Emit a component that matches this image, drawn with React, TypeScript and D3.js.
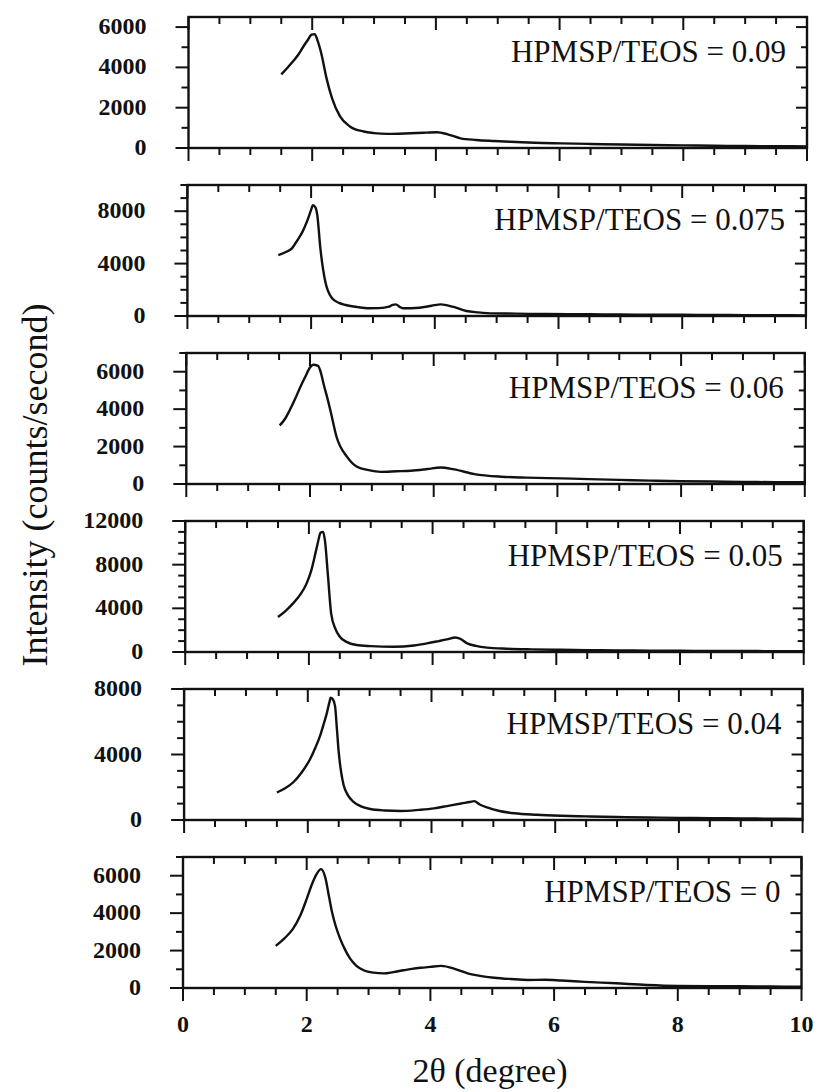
import React from "react";
import * as d3 from "d3";

// ---------- data ----------
const xDomain = [0, 10];
const xMajorTicks = [0, 2, 4, 6, 8, 10];

const labels = [
  "HPMSP/TEOS = 0.09",
  "HPMSP/TEOS = 0.075",
  "HPMSP/TEOS = 0.06",
  "HPMSP/TEOS = 0.05",
  "HPMSP/TEOS = 0.04",
  "HPMSP/TEOS = 0",
];

const yMaxes = [6500, 10000, 7000, 12000, 8000, 7000];

const yLabels009 = [0, 2000, 4000, 6000];
const yLabels0075 = [0, 4000, 8000];
const yLabels006 = [0, 2000, 4000, 6000];
const yLabels005 = [0, 4000, 8000, 12000];
const yLabels004 = [0, 4000, 8000];
const yLabels000 = [0, 2000, 4000, 6000];

const x009 = [1.5, 1.6, 1.69, 1.78, 1.85, 1.92, 1.99, 2.04, 2.09, 2.15, 2.23, 2.32, 2.45, 2.61, 2.83, 3.0, 3.21, 3.4, 3.59, 3.8, 4.02, 4.19, 4.4, 4.65, 4.94, 5.3, 5.6, 6.03, 6.5, 7.0, 7.5, 8.0, 8.5, 9.0, 9.5, 10.0];
const y009 = [3650, 3980, 4300, 4650, 5000, 5320, 5620, 5650, 5300, 4650, 3480, 2480, 1570, 1070, 820, 740, 700, 710, 730, 760, 780, 680, 480, 400, 350, 300, 260, 230, 200, 170, 150, 130, 110, 100, 90, 80];

const x0075 = [1.47, 1.6, 1.69, 1.78, 1.86, 1.94, 2.0, 2.03, 2.07, 2.1, 2.15, 2.23, 2.34, 2.45, 2.56, 2.75, 2.94, 3.1, 3.26, 3.32, 3.37, 3.43, 3.48, 3.75, 3.95, 4.1, 4.29, 4.51, 4.7, 4.94, 5.3, 5.8, 6.5, 7.0, 7.5, 8.0, 8.5, 9.0, 9.5, 10.0];
const y0075 = [4650, 4900, 5160, 5800, 6420, 7300, 8100, 8460, 8300, 7700, 5160, 2610, 1350, 1000, 840, 680, 590, 600, 710, 850, 890, 700, 590, 630, 780, 890, 710, 380, 280, 200, 180, 150, 130, 110, 100, 90, 80, 70, 60, 50];

const x006 = [1.51, 1.6, 1.67, 1.76, 1.84, 1.92, 2.0, 2.05, 2.13, 2.18, 2.22, 2.28, 2.33, 2.43, 2.6, 2.76, 2.95, 3.14, 3.4, 3.63, 3.9, 4.11, 4.33, 4.66, 5.09, 5.5, 6.07, 6.5, 7.0, 7.5, 8.0, 8.5, 9.0, 9.5, 10.0];
const y006 = [3130, 3500, 3930, 4550, 5160, 5700, 6220, 6370, 6310, 5900, 5340, 4600, 3930, 2510, 1450, 920, 740, 650, 680, 710, 800, 880, 780, 530, 390, 340, 300, 260, 220, 180, 150, 130, 110, 100, 90];

const x005 = [1.5, 1.62, 1.74, 1.86, 1.96, 2.04, 2.09, 2.14, 2.19, 2.23, 2.26, 2.31, 2.36, 2.43, 2.5, 2.6, 2.77, 3.0, 3.37, 3.7, 3.91, 4.1, 4.23, 4.37, 4.45, 4.56, 4.7, 4.88, 5.2, 5.6, 6.07, 6.5, 7.0, 7.5, 8.0, 8.5, 9.0, 9.5, 10.0];
const y005 = [3210, 3750, 4430, 5250, 6240, 7500, 8660, 9900, 10940, 11000, 10180, 6850, 3520, 2100, 1390, 950, 640, 540, 480, 600, 790, 1000, 1150, 1330, 1200, 790, 560, 400, 300, 240, 200, 170, 150, 130, 110, 100, 90, 80, 70];

const x004 = [1.5, 1.64, 1.77, 1.9, 2.04, 2.12, 2.2, 2.26, 2.31, 2.35, 2.37, 2.4, 2.44, 2.47, 2.5, 2.54, 2.58, 2.65, 2.74, 2.85, 3.01, 3.25, 3.5, 3.8, 4.04, 4.25, 4.48, 4.62, 4.69, 4.78, 4.91, 5.1, 5.34, 5.7, 6.1, 6.5, 7.0, 7.5, 8.0, 8.5, 9.0, 9.5, 10.0];
const y004 = [1680, 1950, 2320, 2900, 3740, 4400, 5150, 5900, 6560, 7200, 7470, 7400, 6970, 5600, 4140, 2900, 2120, 1500, 1110, 850, 670, 580, 550, 620, 710, 850, 1010, 1100, 1150, 950, 750, 550, 410, 320, 260, 220, 180, 150, 130, 110, 100, 80, 70];

const x000 = [1.5, 1.64, 1.78, 1.9, 2.0, 2.08, 2.16, 2.23, 2.3, 2.36, 2.41, 2.47, 2.54, 2.62, 2.7, 2.8, 2.92, 3.08, 3.25, 3.4, 3.57, 3.7, 3.84, 4.0, 4.17, 4.38, 4.5, 4.6, 4.8, 5.03, 5.3, 5.58, 5.85, 6.12, 6.5, 7.0, 7.5, 8.0, 8.5, 9.0, 9.5, 10.0];
const y000 = [2250, 2650, 3170, 3900, 4760, 5500, 6080, 6350, 5910, 4900, 4050, 3300, 2640, 2050, 1580, 1200, 950, 820, 780, 850, 950, 1020, 1080, 1130, 1180, 1040, 900, 780, 650, 550, 480, 430, 440, 400, 330, 250, 160, 110, 100, 90, 80, 70];

const seriesX = [x009, x0075, x006, x005, x004, x000];
const seriesY = [y009, y0075, y006, y005, y004, y000];
const yTickLabels = [yLabels009, yLabels0075, yLabels006, yLabels005, yLabels004, yLabels000];

// ---------- layout ----------
const W = 819;
const H = 1092;
const panelH = 131;
const panelPitch = 168;
const firstZero = 148;
const panelW = 618.5;
const firstLeft = 188.5;
const leftShift = 1.1; // scanned page is slightly slanted
const serif = "'Liberation Serif', 'Times New Roman', Times, serif";

function Panel({ i }: { i: number }) {
  const left = firstLeft - i * leftShift;
  const right = left + panelW;
  const bottom = firstZero + i * panelPitch;
  const top = bottom - panelH;
  const x = d3.scaleLinear().domain(xDomain).range([left, right]);
  const y = d3.scaleLinear().domain([0, yMaxes[i]]).range([bottom, top]);
  const pts: [number, number][] = seriesX[i].map((v, k) => [v, seriesY[i][k]]);
  const line = d3
    .line<[number, number]>()
    .x((d) => x(d[0]))
    .y((d) => y(d[1]))
    .curve(d3.curveMonotoneX);

  const xMinor = d3.range(0, 10.001, 0.5);
  const yMinor = d3.range(0, yMaxes[i] + 1, 1000);
  const isXMajor = (v: number) => Math.abs(v / 2 - Math.round(v / 2)) < 1e-6;
  const majorsY = yTickLabels[i];
  const isYMajor = (v: number) => majorsY.includes(v);
  const isLast = i === seriesX.length - 1;

  return (
    <g>
      {xMinor.map((v) => {
        const maj = isXMajor(v);
        return (
          <g key={"xt" + v}>
            <line x1={x(v)} x2={x(v)} y1={bottom} y2={bottom + (maj ? 13 : 7)} stroke="#111" strokeWidth={2} />
            <line x1={x(v)} x2={x(v)} y1={top} y2={top + (maj ? 13 : 7)} stroke="#111" strokeWidth={2} />
          </g>
        );
      })}
      {yMinor.map((v) => {
        const maj = isYMajor(v);
        return (
          <g key={"yt" + v}>
            <line x1={left} x2={left - (maj ? 13 : 7)} y1={y(v)} y2={y(v)} stroke="#111" strokeWidth={2} />
            <line x1={right} x2={right - (maj ? 11 : 6)} y1={y(v)} y2={y(v)} stroke="#111" strokeWidth={2} />
          </g>
        );
      })}
      <rect x={left} y={top} width={right - left} height={bottom - top} fill="none" stroke="#111" strokeWidth={2.4} />
      {majorsY.map((v) => (
        <text
          key={"yl" + v}
          x={left - 42}
          y={y(v) + 7}
          textAnchor="end"
          fontFamily={serif}
          fontWeight="bold"
          fontSize={24}
          fill="#111"
        >
          {v}
        </text>
      ))}
      {isLast &&
        xMajorTicks.map((v) => (
          <text
            key={"xl" + v}
            x={x(v)}
            y={bottom + 44}
            textAnchor="middle"
            fontFamily={serif}
            fontWeight="bold"
            fontSize={24}
            fill="#111"
          >
            {v}
          </text>
        ))}
      <path d={line(pts) || ""} fill="none" stroke="#111" strokeWidth={2.4} strokeLinejoin="round" />
      <text x={right - 21} y={top + 45} textAnchor="end" fontFamily={serif} fontSize={31} fill="#111">
        {labels[i]}
      </text>
    </g>
  );
}

export default function App() {
  return (
    <svg
      width={W}
      height={H}
      viewBox={`0 0 ${W} ${H}`}
      style={{ position: "absolute", left: 0, top: 0, background: "#fff" }}
    >
      <rect x={0} y={0} width={W} height={H} fill="#fff" />
      {seriesX.map((_, i) => (
        <Panel key={i} i={i} />
      ))}
      <text
        transform={`translate(47, 485) rotate(-90)`}
        textAnchor="middle"
        fontFamily={serif}
        fontSize={36}
        fill="#111"
      >
        Intensity (counts/second)
      </text>
      <text x={490} y={1082} textAnchor="middle" fontFamily={serif} fontSize={34} fill="#111">
        2θ (degree)
      </text>
    </svg>
  );
}
